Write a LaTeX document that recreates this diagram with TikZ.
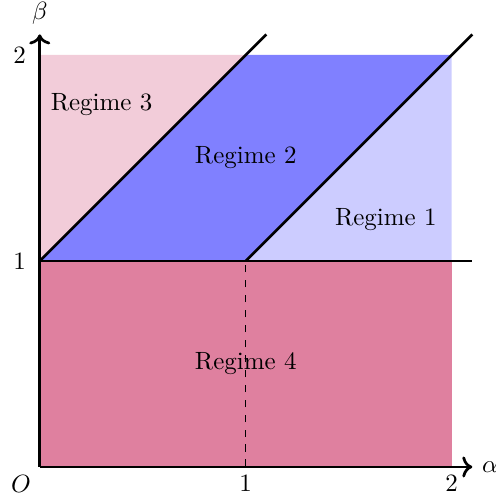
\documentclass[tikz,border=0pt]{standalone}
\usepackage{tikz}
\usetikzlibrary{arrows.meta, positioning}

\begin{document}
\begin{tikzpicture}[
    x=2.9cm, y=2.9cm,
    axis/.style={->, line width=1.1pt},
    bound/.style={line width=1.1pt},
    lbl/.style={font=\normalsize}
]
    \useasboundingbox (-0.193,-0.175) rectangle (2.212,2.267);
    % regions
    \fill[purple!50] (0,0) rectangle (2,1);
    \fill[purple!20] (0,1) -- (0,2) -- (1,2) -- cycle;
    \fill[blue!50] (0,1) -- (1,2) -- (2,2) -- (1,1) -- cycle;
    \fill[blue!20] (1,1) -- (2,2) -- (2,1) -- cycle;

    \coordinate (O) at (0,0);
    \coordinate (xend) at (2.1,0);
    \coordinate (yend) at (0,2.1);
    \coordinate (a) at (0,1);
    \coordinate (b) at (1,1);
    \coordinate (c) at (1,0);
    \coordinate (a2) at (1.1,2.1);
    \coordinate (b2) at (2.1,2.1);
    \coordinate (hend) at (2.1,1);

    \draw[axis] (O) -- (xend) node[right] {$\alpha$};
    \draw[axis] (O) -- (yend) node[above] {$\beta$};
    \node[below left] at (O) {$O$};
    \node[below] at (c) {$1$};
    \node[below] at (2,0) {$2$};
    \node[left, xshift=-2pt] at (a) {$1$};
    \node[left, xshift=-2pt] at (0,2) {$2$};

    \draw[bound] (a) -- (hend);
    \draw[bound] (a) -- (a2);
    \draw[bound] (b) -- (b2);
    \draw[dashed] (c) -- (b);

    \node[lbl] (r1) at (1.68,1.2) {Regime 1};
    \node[lbl] (r2) at (1,1.5) {Regime 2};
    \node[lbl] (r3) at (0.3,1.76) {Regime 3};
    \node[lbl] (r4) at (1,0.5) {Regime 4};
\end{tikzpicture}
\end{document}
